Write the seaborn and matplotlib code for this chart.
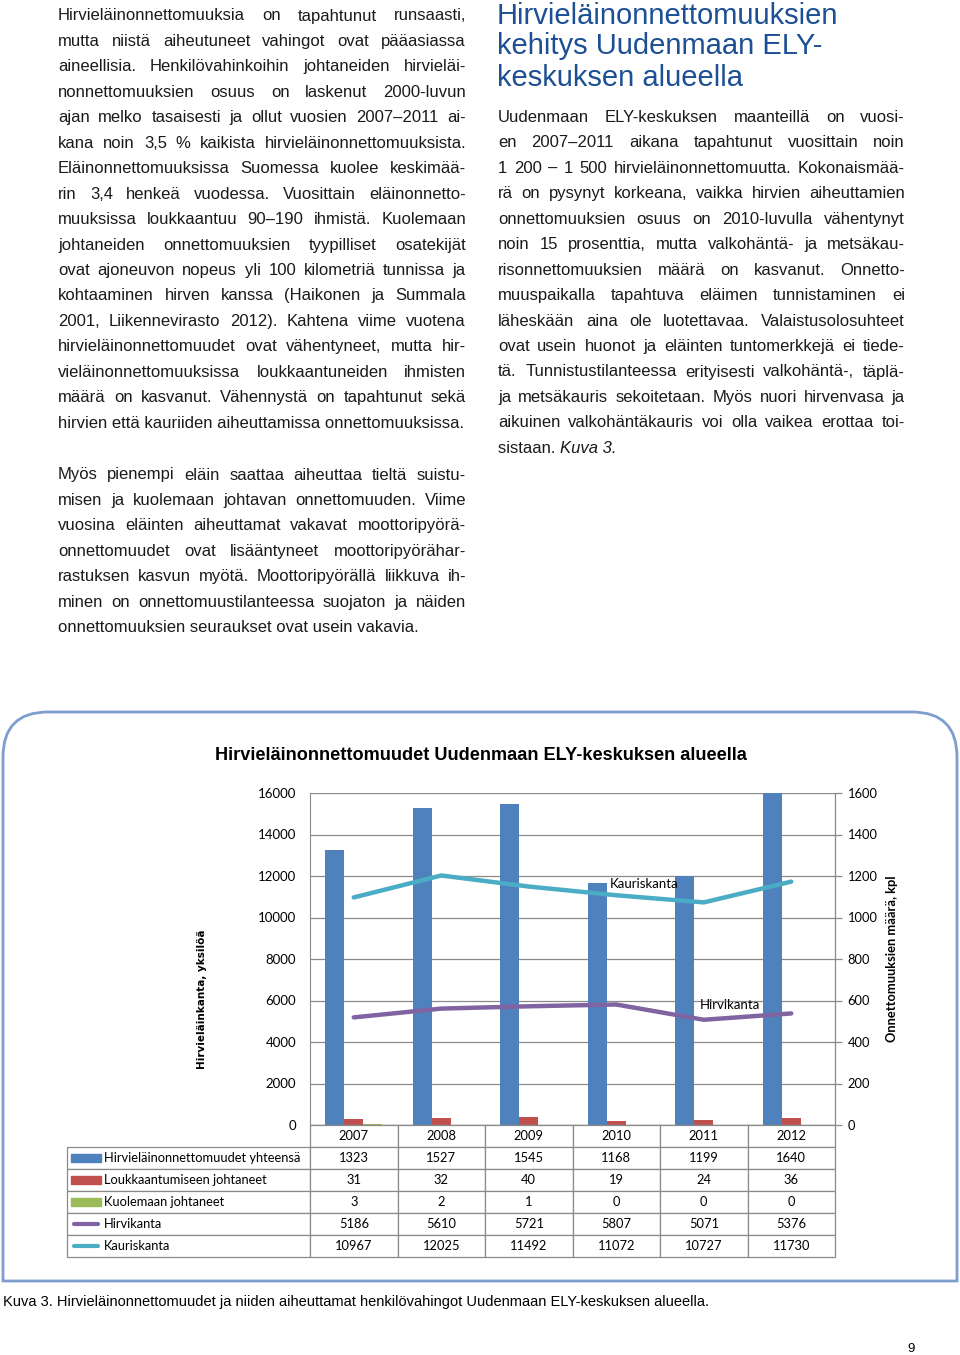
"""
Hirvieläinonnettomuudet Uudenmaan ELY-keskuksen alueella
sivu 9: tekstipalstat + kuva 3 (pylväät, viivat ja taulukko)
"""
import numpy as np
import pandas as pd
import matplotlib
matplotlib.use('Agg')
import matplotlib.pyplot as plt
import seaborn as sns
from matplotlib.path import Path
from matplotlib.patches import PathPatch, Rectangle
from matplotlib.lines import Line2D

# ── data ────────────────────────────────────────────────────
years = ['2007', '2008', '2009', '2010', '2011', '2012']
onnettomuudet = [1323, 1527, 1545, 1168, 1199, 1640]
loukkaantuneet = [31, 32, 40, 19, 24, 36]
kuolleet = [3, 2, 1, 0, 0, 0]
hirvikanta = [5186, 5610, 5721, 5807, 5071, 5376]
kauriskanta = [10967, 12025, 11492, 11072, 10727, 11730]

bar_names = ['Hirvieläinonnettomuudet yhteensä', 'Loukkaantumiseen johtaneet',
             'Kuolemaan johtaneet']
line_names = ['Hirvikanta', 'Kauriskanta']
bar_colors = ['#4F81BD', '#C0504D', '#9BBB59']
line_colors = ['#8064A2', '#4BACC6']

left_ticks = [0, 2000, 4000, 6000, 8000, 10000, 12000, 14000, 16000]
right_ticks = [0, 200, 400, 600, 800, 1000, 1200, 1400, 1600]

chart_title = 'Hirvieläinonnettomuudet Uudenmaan ELY-keskuksen alueella'
caption = ('Kuva 3. Hirvieläinonnettomuudet ja niiden aiheuttamat henkilövahingot '
           'Uudenmaan ELY-keskuksen alueella.')

left_par1 = [
    'Hirvieläinonnettomuuksia on tapahtunut runsaasti,',
    'mutta niistä aiheutuneet vahingot ovat pääasiassa',
    'aineellisia. Henkilövahinkoihin johtaneiden hirvieläi-',
    'nonnettomuuksien osuus on laskenut 2000-luvun',
    'ajan melko tasaisesti ja ollut vuosien 2007–2011 ai-',
    'kana noin 3,5 % kaikista hirvieläinonnettomuuksista.',
    'Eläinonnettomuuksissa Suomessa kuolee keskimää-',
    'rin 3,4 henkeä vuodessa. Vuosittain eläinonnetto-',
    'muuksissa loukkaantuu 90–190 ihmistä. Kuolemaan',
    'johtaneiden onnettomuuksien tyypilliset osatekijät',
    'ovat ajoneuvon nopeus yli 100 kilometriä tunnissa ja',
    'kohtaaminen hirven kanssa (Haikonen ja Summala',
    '2001, Liikennevirasto 2012). Kahtena viime vuotena',
    'hirvieläinonnettomuudet ovat vähentyneet, mutta hir-',
    'vieläinonnettomuuksissa loukkaantuneiden ihmisten',
    'määrä on kasvanut. Vähennystä on tapahtunut sekä',
    'hirvien että kauriiden aiheuttamissa onnettomuuksissa.',
]
left_par2 = [
    'Myös pienempi eläin saattaa aiheuttaa tieltä suistu-',
    'misen ja kuolemaan johtavan onnettomuuden. Viime',
    'vuosina eläinten aiheuttamat vakavat moottoripyörä-',
    'onnettomuudet ovat lisääntyneet moottoripyörähar-',
    'rastuksen kasvun myötä. Moottoripyörällä liikkuva ih-',
    'minen on onnettomuustilanteessa suojaton ja näiden',
    'onnettomuuksien seuraukset ovat usein vakavia.',
]
right_heading = ['Hirvieläinonnettomuuksien', 'kehitys Uudenmaan ELY-',
                 'keskuksen alueella']
right_par = [
    'Uudenmaan ELY-keskuksen maanteillä on vuosi-',
    'en 2007–2011 aikana tapahtunut vuosittain noin',
    '1 200 – 1 500 hirvieläinonnettomuutta. Kokonaismää-',
    'rä on pysynyt korkeana, vaikka hirvien aiheuttamien',
    'onnettomuuksien osuus on 2010-luvulla vähentynyt',
    'noin 15 prosenttia, mutta valkohäntä- ja metsäkau-',
    'risonnettomuuksien määrä on kasvanut. Onnetto-',
    'muuspaikalla tapahtuva eläimen tunnistaminen ei',
    'läheskään aina ole luotettavaa. Valaistusolosuhteet',
    'ovat usein huonot ja eläinten tuntomerkkejä ei tiede-',
    'tä. Tunnistustilanteessa erityisesti valkohäntä-, täplä-',
    'ja metsäkauris sekoitetaan. Myös nuori hirvenvasa ja',
    'aikuinen valkohäntäkauris voi olla vaikea erottaa toi-',
]
right_last = ('sistaan.', 'Kuva 3.')

# ── figure ──────────────────────────────────────────────────
plt.rcParams['font.family'] = ['Lato', 'DejaVu Sans']
W, H = 960, 1355
fig = plt.figure(figsize=(W / 100, H / 100), dpi=100)
renderer = fig.canvas.get_renderer()


def fx(px):
    return px / W


def fy(py):
    return 1 - py / H


def justified(lines, x0, x1, base0, step, last_left=True, **kw):
    """tasataan rivit molempiin reunoihin, sana kerrallaan"""
    for i, line in enumerate(lines):
        y = fy(base0 + i * step)
        words = line.split(' ')
        if (last_left and i == len(lines) - 1) or len(words) == 1:
            fig.text(fx(x0), y, line, va='baseline', **kw)
            continue
        arts = [fig.text(0, y, w, va='baseline', **kw) for w in words]
        widths = [a.get_window_extent(renderer).width for a in arts]
        gap = (x1 - x0 - sum(widths)) / (len(words) - 1)
        x = x0
        for a, wd in zip(arts, widths):
            a.set_x(fx(x))
            x += wd + gap


body = dict(fontsize=12, family='Liberation Sans', color='#1a1a1a')
justified(left_par1, 58, 466, 20.5, 25.45, **body)
justified(left_par2, 58, 466, 479.5, 25.45, **body)
justified(right_par, 498, 905, 122, 25.45, last_left=False, **body)

# viimeinen rivi: "sistaan. Kuva 3." (kursiivi)
yl = fy(122 + len(right_par) * 25.45)
t1 = fig.text(fx(498), yl, right_last[0] + ' ', va='baseline', **body)
w1 = t1.get_window_extent(renderer).width
fig.text(fx(498 + w1), yl, right_last[1], va='baseline', style='italic', **body)

for i, line in enumerate(right_heading):
    fig.text(fx(497), fy(23.5 + i * 31), line, va='baseline', fontsize=21,
             family='Liberation Sans', color='#1c4f93')

# ── kaavion kehys ───────────────────────────────────────────
r = 45
bx0, bx1, by0, by1 = 3, 957, 712, 1281
verts = [(bx0, by1), (bx0, by0 + r), (bx0, by0), (bx0 + r, by0),
         (bx1 - r, by0), (bx1, by0), (bx1, by0 + r), (bx1, by1), (bx0, by1)]
codes = [Path.MOVETO, Path.LINETO, Path.CURVE3, Path.CURVE3,
         Path.LINETO, Path.CURVE3, Path.CURVE3, Path.LINETO, Path.CLOSEPOLY]
frame = PathPatch(Path([(fx(x), fy(y)) for x, y in verts], codes),
                  transform=fig.transFigure, facecolor='none',
                  edgecolor='#7d9dcc', linewidth=2)
fig.add_artist(frame)

fig.text(fx(481), fy(755), chart_title, ha='center', va='center',
         fontsize=13.1, fontweight='bold', family='Liberation Sans')

# ── kaavio ──────────────────────────────────────────────────
grid_c = '#8a8a8a'
ax = fig.add_axes([fx(310), fy(1125), 525 / W, 332 / H])
ax2 = ax.twinx()

bars_df = pd.DataFrame({
    'vuosi': years * 3,
    'sarja': np.repeat(bar_names, len(years)),
    'arvo': onnettomuudet + loukkaantuneet + kuolleet,
})
lines_df = pd.DataFrame({
    'vuosi': years * 2,
    'sarja': np.repeat(line_names, len(years)),
    'arvo': hirvikanta + kauriskanta,
})

sns.barplot(data=bars_df, x='vuosi', y='arvo', hue='sarja', hue_order=bar_names,
            palette=bar_colors, saturation=1, width=0.65, errorbar=None,
            legend=False, ax=ax2)
sns.pointplot(data=lines_df, x='vuosi', y='arvo', hue='sarja', hue_order=line_names,
              palette=line_colors, markers='', errorbar=None, legend=False,
              linewidth=3.2, solid_capstyle='round', solid_joinstyle='round', ax=ax)

ax.set_zorder(ax2.get_zorder() + 1)
ax.patch.set_visible(False)

ax.set_ylim(0, 16000)
ax.set_yticks(left_ticks)
ax2.set_ylim(0, 1600)
ax2.set_yticks(right_ticks)
ax.set_xlim(-0.5, len(years) - 0.5)

ax.grid(False)
ax2.grid(axis='y', color=grid_c, linewidth=0.9)
ax2.grid(axis='x', visible=False)
ax2.set_axisbelow(True)

for s in ax.spines.values():
    s.set_visible(False)
ax.spines['left'].set_visible(True)
ax.spines['left'].set_color(grid_c)
for name, s in ax2.spines.items():
    s.set_color(grid_c)
    s.set_linewidth(0.9)
    s.set_visible(name in ('right', 'bottom'))

ax.tick_params(axis='y', length=0, pad=10, labelsize=9.5)
ax2.tick_params(axis='y', direction='out', length=5, width=0.9, color=grid_c,
                pad=4, labelsize=9.3)
for a in (ax, ax2):
    a.tick_params(axis='x', length=0, labelbottom=False)
    a.set_xlabel('')

ax.set_ylabel('Hirvieläinkanta, yksilöä', fontsize=7.5, fontweight='bold',
              family='DejaVu Sans')
ax.yaxis.set_label_coords(-0.196, 0.38)
ax2.set_ylabel('Onnettomuuksien määrä, kpl', fontsize=9.3, fontweight='bold')
ax2.yaxis.set_label_coords(1.097, 0.5)

ax.text(0.571, 0.726, 'Kauriskanta', transform=ax.transAxes, fontsize=9.5,
        va='center')
ax.text(0.743, 0.361, 'Hirvikanta', transform=ax.transAxes, fontsize=9.5,
        va='center')

# ── taulukko ────────────────────────────────────────────────
all_names = bar_names + line_names
all_values = [onnettomuudet, loukkaantuneet, kuolleet, hirvikanta, kauriskanta]
cell_text = [[''] + years] + [[n] + [str(v) for v in vals]
                              for n, vals in zip(all_names, all_values)]
tab_left, tab_bottom = 67, 1257
tab = ax.table(cellText=cell_text, colWidths=[243] + [87.5] * len(years),
               cellLoc='center',
               bbox=[(tab_left - 310) / 525, -(tab_bottom - 1125) / 332,
                     (835 - tab_left) / 525, (tab_bottom - 1125) / 332])
tab.auto_set_font_size(False)
tab.set_fontsize(9.3)
for (row, col), cell in tab.get_celld().items():
    cell.set_edgecolor(grid_c)
    cell.set_linewidth(0.9)
    if col == 0:
        cell.get_text().set_ha('left')
        cell.PAD = (104 - tab_left) / 243
tab.get_celld()[(0, 0)].visible_edges = ''

# selitteen merkit taulukon rivien alussa
row_h = 22 / 332
sx0, sx1 = (71 - 310) / 525, (101 - 310) / 525
swatches = bar_colors + line_colors
for i, c in enumerate(swatches):
    yc = -(i + 1.5) * row_h
    if i < len(bar_colors):
        ax.add_artist(Rectangle((sx0, yc - 4 / 332), sx1 - sx0, 8 / 332,
                                transform=ax.transAxes, color=c, clip_on=False))
    else:
        ax.add_artist(Line2D([sx0 + 0.005, sx1 - 0.005], [yc, yc], color=c,
                             linewidth=3, solid_capstyle='round',
                             transform=ax.transAxes, clip_on=False))

fig.text(fx(3), fy(1302), caption, va='center', fontsize=10.5,
         family='Liberation Sans')
fig.text(fx(911), fy(1349), '9', ha='center', va='center', fontsize=9.5,
         family='Liberation Sans')

fig.savefig('out.png', dpi=100)
print('out.png tallennettu')
